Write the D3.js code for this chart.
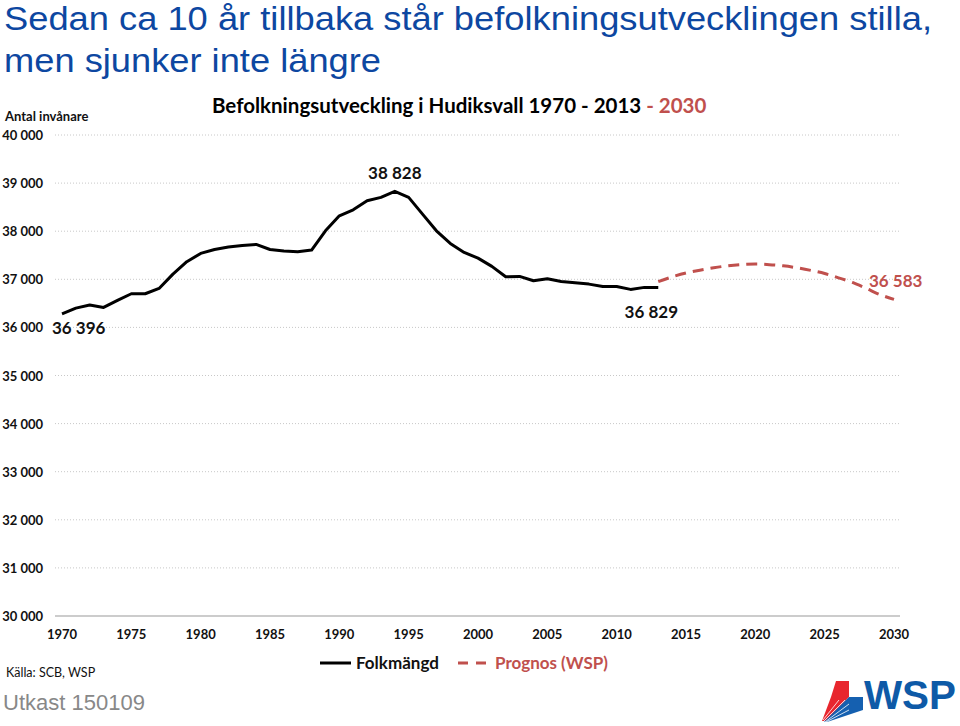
<!DOCTYPE html>
<html><head><meta charset="utf-8">
<script src="https://cdn.jsdelivr.net/npm/d3@7"></script>
<style>body{margin:0;background:#fff}svg{display:block}</style>
</head><body>
<script>
const years = d3.range(1970, 2014);
const population = [36283,36401,36464,36415,36560,36700,36700,36810,37108,37365,
  37538,37620,37670,37705,37725,37620,37586,37572,37607,38008,
  38320,38445,38632,38703,38828,38703,38355,38008,37746,37559,
  37440,37268,37052,37060,36969,37010,36956,36927,36900,36852,
  36852,36790,36832,36829];
const forecastYears = d3.range(2013, 2031);
const forecast = [36950,37050,37130,37190,37240,37280,37305,37316,37305,37280,
  37240,37185,37120,37030,36935,36810,36680,36583];
const yTicks = [30000,31000,32000,33000,34000,35000,36000,37000,38000,39000,40000];
const xTicks = [1970,1975,1980,1985,1990,1995,2000,2005,2010,2015,2020,2025,2030];
const labelTexts = {first:"36 396", peak:"38 828", last:"36 829", fc:"36 583"};

const W=960,H=726;
const svg=d3.select("body").append("svg").attr("width",W).attr("height",H);
const font="Lato, 'Open Sans', sans-serif";
const arial="Arial, 'Liberation Sans', sans-serif";
const red="#c0504d";
const x=d3.scaleLinear().domain([1970,2030]).range([62,894]);
const y=d3.scaleLinear().domain([30000,40000]).range([616,135]);

// Title
svg.append("text").attr("x",4).attr("y",30).attr("font-family",arial).attr("font-size",33).attr("fill","#0d47a1")
  .attr("textLength",928).attr("lengthAdjust","spacingAndGlyphs")
  .text("Sedan ca 10 år tillbaka står befolkningsutvecklingen stilla,");
svg.append("text").attr("x",4).attr("y",72).attr("font-family",arial).attr("font-size",33).attr("fill","#0d47a1")
  .attr("textLength",377).attr("lengthAdjust","spacingAndGlyphs")
  .text("men sjunker inte längre");

// chart title
const ct=svg.append("text").attr("x",212).attr("y",113).attr("font-family",font).attr("font-weight","bold")
  .attr("font-size",20.5).attr("fill","#000");
ct.append("tspan").text("Befolkningsutveckling i Hudiksvall 1970 - 2013 ");
ct.append("tspan").attr("fill",red).text("- 2030");

svg.append("text").attr("x",5).attr("y",121).attr("font-family",font).attr("font-size",13).attr("font-weight","bold")
  .attr("fill","#111").text("Antal invånare");

// grid
svg.append("g").selectAll("line").data(yTicks.filter(d=>d>30000)).join("line")
  .attr("x1",55).attr("x2",900).attr("y1",d=>y(d)).attr("y2",d=>y(d))
  .attr("stroke","#c8c8c8").attr("stroke-width",1).attr("stroke-dasharray","1,2");
svg.append("line").attr("x1",55).attr("x2",900).attr("y1",y(30000)).attr("y2",y(30000))
  .attr("stroke","#999").attr("stroke-width",1);

const fmt=v=>d3.format(",")(v).replace(/,/g," ");
svg.append("g").selectAll("text").data(yTicks).join("text")
  .attr("x",43).attr("y",d=>y(d)+5).attr("text-anchor","end")
  .attr("font-family",font).attr("font-size",13).attr("font-weight","bold").attr("fill","#111").text(d=>fmt(d));
svg.append("g").selectAll("text").data(xTicks).join("text")
  .attr("x",d=>x(d)).attr("y",639).attr("text-anchor","middle")
  .attr("font-family",font).attr("font-size",13).attr("font-weight","bold").attr("fill","#111").text(d=>d);

// lines
const line=d3.line().x(d=>x(d[0])).y(d=>y(d[1]));
svg.append("path").datum(years.map((yr,i)=>[yr,population[i]]))
  .attr("d",line).attr("fill","none").attr("stroke","#000").attr("stroke-width",3).attr("stroke-linejoin","round");
svg.append("path").datum(forecastYears.map((yr,i)=>[yr,forecast[i]]))
  .attr("d",line.curve(d3.curveCatmullRom)).attr("fill","none").attr("stroke",red).attr("stroke-width",3)
  .attr("stroke-dasharray","11,7");

// data labels
const lab=(t,xx,yy,anchor,col)=>svg.append("text").attr("x",xx).attr("y",yy).attr("text-anchor",anchor)
  .attr("font-family",font).attr("font-weight","bold").attr("font-size",17).attr("fill",col).text(t);
lab(labelTexts.first,x(1970)-10,334,"start","#111");
lab(labelTexts.peak,x(1994),179,"middle","#111");
lab(labelTexts.last,x(2012.5),318,"middle","#111");
lab(labelTexts.fc,869,287,"start",red);

// legend
svg.append("line").attr("x1",320).attr("x2",351).attr("y1",663).attr("y2",663).attr("stroke","#000").attr("stroke-width",3);
svg.append("text").attr("x",356).attr("y",669).attr("font-family",font).attr("font-weight","bold").attr("font-size",17).attr("fill","#111").text("Folkmängd");
svg.append("line").attr("x1",458).attr("x2",490).attr("y1",663).attr("y2",663).attr("stroke",red).attr("stroke-width",3).attr("stroke-dasharray","10,8");
svg.append("text").attr("x",495).attr("y",669).attr("font-family",font).attr("font-weight","bold").attr("font-size",17).attr("fill",red).text("Prognos (WSP)");

svg.append("text").attr("x",6).attr("y",677).attr("font-family",font).attr("font-size",12.5).attr("fill","#111").text("Källa: SCB, WSP");
svg.append("text").attr("x",3).attr("y",710).attr("font-family",arial).attr("font-size",22).attr("fill","#888").text("Utkast 150109");

// WSP logo
const lg=svg.append("g");
lg.append("polygon").attr("points","836,681 849,681 849,697 831,697").attr("fill","#e8262e");
lg.append("polygon").attr("points","831,697 849,697 826,721 822,721").attr("fill","#e8262e");
lg.append("line").attr("x1",845).attr("y1",700).attr("x2",824).attr("y2",721).attr("stroke","#fff").attr("stroke-width",0.8);
lg.append("line").attr("x1",839).attr("y1",700).attr("x2",823).attr("y2",720).attr("stroke","#fff").attr("stroke-width",0.8);
lg.append("polygon").attr("points","849,697 863,697 863,710 849,710").attr("fill","#1560b0");
lg.append("polygon").attr("points","849,697 849,710 863,710 827,722 824,722").attr("fill","#1560b0");
lg.append("line").attr("x1",849).attr("y1",710).attr("x2",826).attr("y2",722).attr("stroke","#fff").attr("stroke-width",0.8);
lg.append("line").attr("x1",849).attr("y1",704).attr("x2",825).attr("y2",722).attr("stroke","#fff").attr("stroke-width",0.8);
lg.append("text").attr("x",864).attr("y",709).attr("font-family",arial).attr("font-weight","bold")
  .attr("font-size",40).attr("fill","#0e5aa7").attr("textLength",92).attr("lengthAdjust","spacingAndGlyphs").text("WSP");
</script>
</body></html>
